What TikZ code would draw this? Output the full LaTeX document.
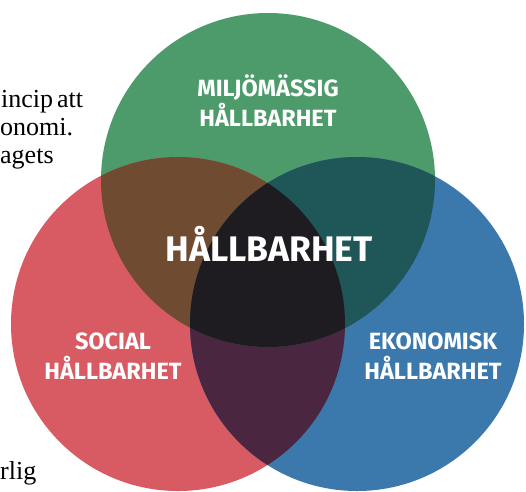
\documentclass[tikz,border=0pt]{standalone}
\usepackage{fontspec}
\setmainfont{Liberation Serif}
\newfontfamily\labelfont{Fira Sans}
\usepackage{tikz}
\definecolor{envgreen}{HTML}{4D9B6B}
\definecolor{socred}{HTML}{D85A63}
\definecolor{ecoblue}{HTML}{3B79AD}
\definecolor{mixbrown}{HTML}{6F4B31}
\definecolor{mixteal}{HTML}{1F5657}
\definecolor{mixpurple}{HTML}{4B2640}
\definecolor{mixdark}{HTML}{1E1C20}
\tikzset{
	smalllabel/.style={text=white, align=center, font=\labelfont\bfseries\fontsize{23.5}{30}\selectfont},
	biglabel/.style={text=white, font=\labelfont\bfseries\fontsize{35.5}{40}\selectfont},
	scantext/.style={anchor=base west, inner sep=0pt, font=\fontsize{26}{28}\selectfont}
}
\def\rad{167}

\begin{document}
\begin{tikzpicture}[x=1pt, y=-1pt]
			%%%%% START %%%%%
			
			\useasboundingbox[fill=white] (0, 0) rectangle (526, 491);
			
			\coordinate (env) at (268, 180);
			\coordinate (soc) at (178, 324);
			\coordinate (eco) at (357, 324);
			
			\fill[envgreen] (env) circle (\rad);
			\fill[socred] (soc) circle (\rad);
			\fill[ecoblue] (eco) circle (\rad);
			
			\begin{scope}
				\clip (soc) circle (\rad);
				\fill[mixpurple] (eco) circle (\rad);
			\end{scope}
			
			\begin{scope}
				\clip (env) circle (\rad);
				\fill[mixbrown] (soc) circle (\rad);
				\fill[mixteal] (eco) circle (\rad);
				\clip (soc) circle (\rad);
				\fill[mixdark] (eco) circle (\rad);
			\end{scope}
			
			\node[smalllabel] (envlabel) at (268, 101) {MILJÖMÄSSIG\\HÅLLBARHET};
			\node[biglabel] (mainlabel) at (269, 244) {HÅLLBARHET};
			\node[smalllabel] (soclabel) at (113, 356) {SOCIAL\\HÅLLBARHET};
			\node[smalllabel] (ecolabel) at (433, 356) {EKONOMISK\\HÅLLBARHET};
			
			\node[scantext] (line1) at (1, 107) {incip\hspace{4pt}att};
			\node[scantext] (line2) at (0, 135) {onomi.};
			\node[scantext] (line3) at (0, 163) {agets};
			\node[scantext] (line4) at (0, 479) {rlig};
			
			%%%%% END %%%%%
		\end{tikzpicture}
\end{document}
